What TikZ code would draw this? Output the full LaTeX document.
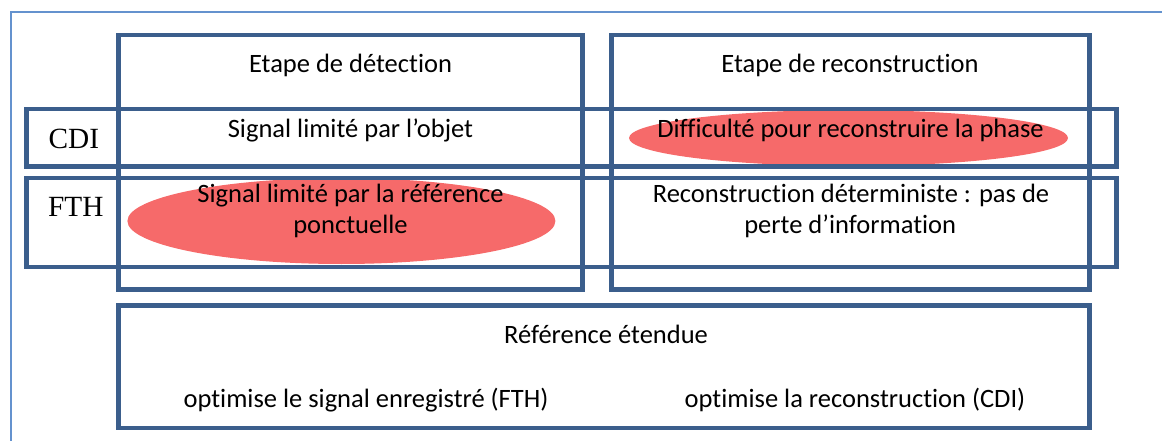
\documentclass[tikz,border=0pt]{standalone}
\usepackage{fontspec}
\setmainfont[Ligatures=NoCommon]{Carlito}
\newfontfamily\timesfont{Liberation Serif}
\usetikzlibrary{shapes.geometric}
\definecolor{boxblue}{RGB}{59,94,140}
\definecolor{frameblue}{RGB}{100,146,206}
\definecolor{ovalred}{RGB}{246,106,106}
\begin{document}
\begin{tikzpicture}[x=1pt,y=-1pt,
  box/.style={draw=boxblue,line width=4.7pt,rectangle,inner sep=0pt},
  oval/.style={ellipse,fill=ovalred,inner sep=0pt},
  lbl/.style={font=\fontsize{26.5}{31}\selectfont,inner sep=0pt,anchor=base},
  rowlbl/.style={font=\timesfont\fontsize{29.3}{34}\selectfont,inner sep=0pt,anchor=base}]
\useasboundingbox (0,0) rectangle (1162,441);
\begin{scope}
\clip (0,0) rectangle (1162,441);
\coordinate (fa) at (11,470);
\coordinate (fb) at (11,12);
\coordinate (fc) at (1190,12);
\draw[frameblue,line width=2pt] (fa) -- (fb) -- (fc);
\end{scope}
% ovals
\node[oval,minimum width=428pt,minimum height=86pt] (e1) at (341.4,221) {};
\node[oval,minimum width=439pt,minimum height=56pt] (e2) at (848.5,138) {};
% boxes
\node[box,minimum width=464pt,minimum height=254.5pt] (det) at (350.3,162.25) {};
\node[box,minimum width=477.9pt,minimum height=254.5pt] (rec) at (850.25,162.25) {};
\node[box,minimum width=1090.4pt,minimum height=57.7pt] (cdi) at (571.5,137.85) {};
\node[box,minimum width=1090.4pt,minimum height=89pt] (fth) at (571.5,222.5) {};
\node[box,minimum width=970.8pt,minimum height=122.3pt] (ext) at (603.9,366.85) {};
% texts
\node[lbl] (h1) at (350.5,72.7) {Etape de détection};
\node[lbl] (h2) at (850,72.7) {Etape de reconstruction};
\node[rowlbl] (l1) at (73.8,148.3) {CDI};
\node[rowlbl] (l2) at (75.8,216.7) {FTH};
\node[lbl] (c11) at (350.5,137.2) {Signal limité par l’objet};
\node[lbl] (c12) at (850.5,137.2) {Difficulté pour reconstruire la phase};
\node[lbl] (c21a) at (350.5,202.2) {Signal limité par la référence};
\node[lbl] (c21b) at (350.5,233.3) {ponctuelle};
\node[lbl] (c22a) at (851,202.2) {Reconstruction déterministe : pas de};
\node[lbl] (c22b) at (850.2,233.3) {perte d’information};
\node[lbl] (r1) at (606,343.3) {Référence étendue};
\node[lbl] (r2) at (366,407.7) {optimise le signal enregistré (FTH)};
\node[lbl] (r3) at (855,407.7) {optimise la reconstruction (CDI)};
\end{tikzpicture}
\end{document}
